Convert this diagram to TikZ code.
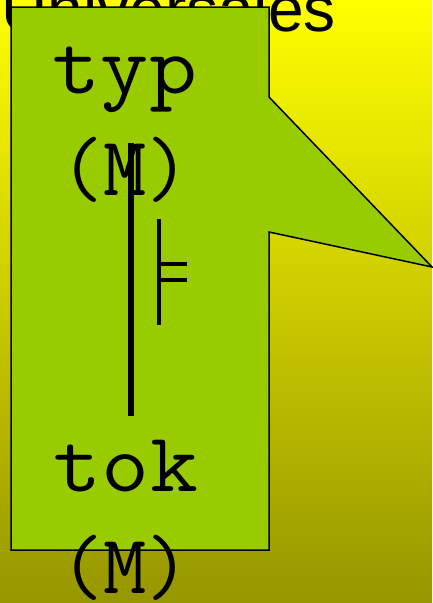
\documentclass[tikz,border=0pt]{standalone}
\usepackage{fontspec}
\usepackage{graphicx}
\setmainfont{Liberation Sans}
\definecolor{boxgreen}{RGB}{153,204,0}
\definecolor{bgtop}{RGB}{255,255,0}
\definecolor{bgbot}{RGB}{150,150,0}
\newcommand{\widetext}[1]{\scalebox{1.11}[1]{#1}}
\tikzset{
  monotext/.style={font=\ttfamily\fontsize{84}{84}\selectfont, inner sep=0pt, anchor=base},
  titletext/.style={font=\fontsize{64}{64}\selectfont, inner sep=0pt, anchor=base east},
  callout/.style={fill=boxgreen, draw=black, line width=1.5pt, line join=miter},
  thickbar/.style={line width=6pt},
  thinbar/.style={line width=4pt}
}
\begin{document}
\begin{tikzpicture}[x=1pt,y=-1pt]
\useasboundingbox (0,0) rectangle (432,603);
\shade[top color=bgtop, bottom color=bgbot] (0,0) rectangle (432,603);
\node[titletext] (title) at (336,31) {Universales};
\draw[callout] (11,7) -- (269,7) -- (269,97) -- (432,267) -- (269,232) -- (269,550) -- (11,550) -- cycle;
\node[monotext] (typ) at (125,93) {\widetext{typ}};
\node[monotext] (m1) at (125,195) {(M)};
\node[monotext] (tok) at (126,491) {\widetext{tok}};
\node[monotext] (m2) at (125,593) {(M)};
\coordinate (bartop) at (130.5,143);
\coordinate (barbot) at (130.5,416);
\coordinate (stop) at (159,219);
\coordinate (sbot) at (159,325);
\coordinate (h1a) at (159,264);
\coordinate (h1b) at (187,264);
\coordinate (h2a) at (159,280);
\coordinate (h2b) at (187,280);
\draw[thickbar] (bartop) -- (barbot);
\draw[thinbar] (stop) -- (sbot);
\draw[thinbar] (h1a) -- (h1b);
\draw[thinbar] (h2a) -- (h2b);
\end{tikzpicture}
\end{document}
